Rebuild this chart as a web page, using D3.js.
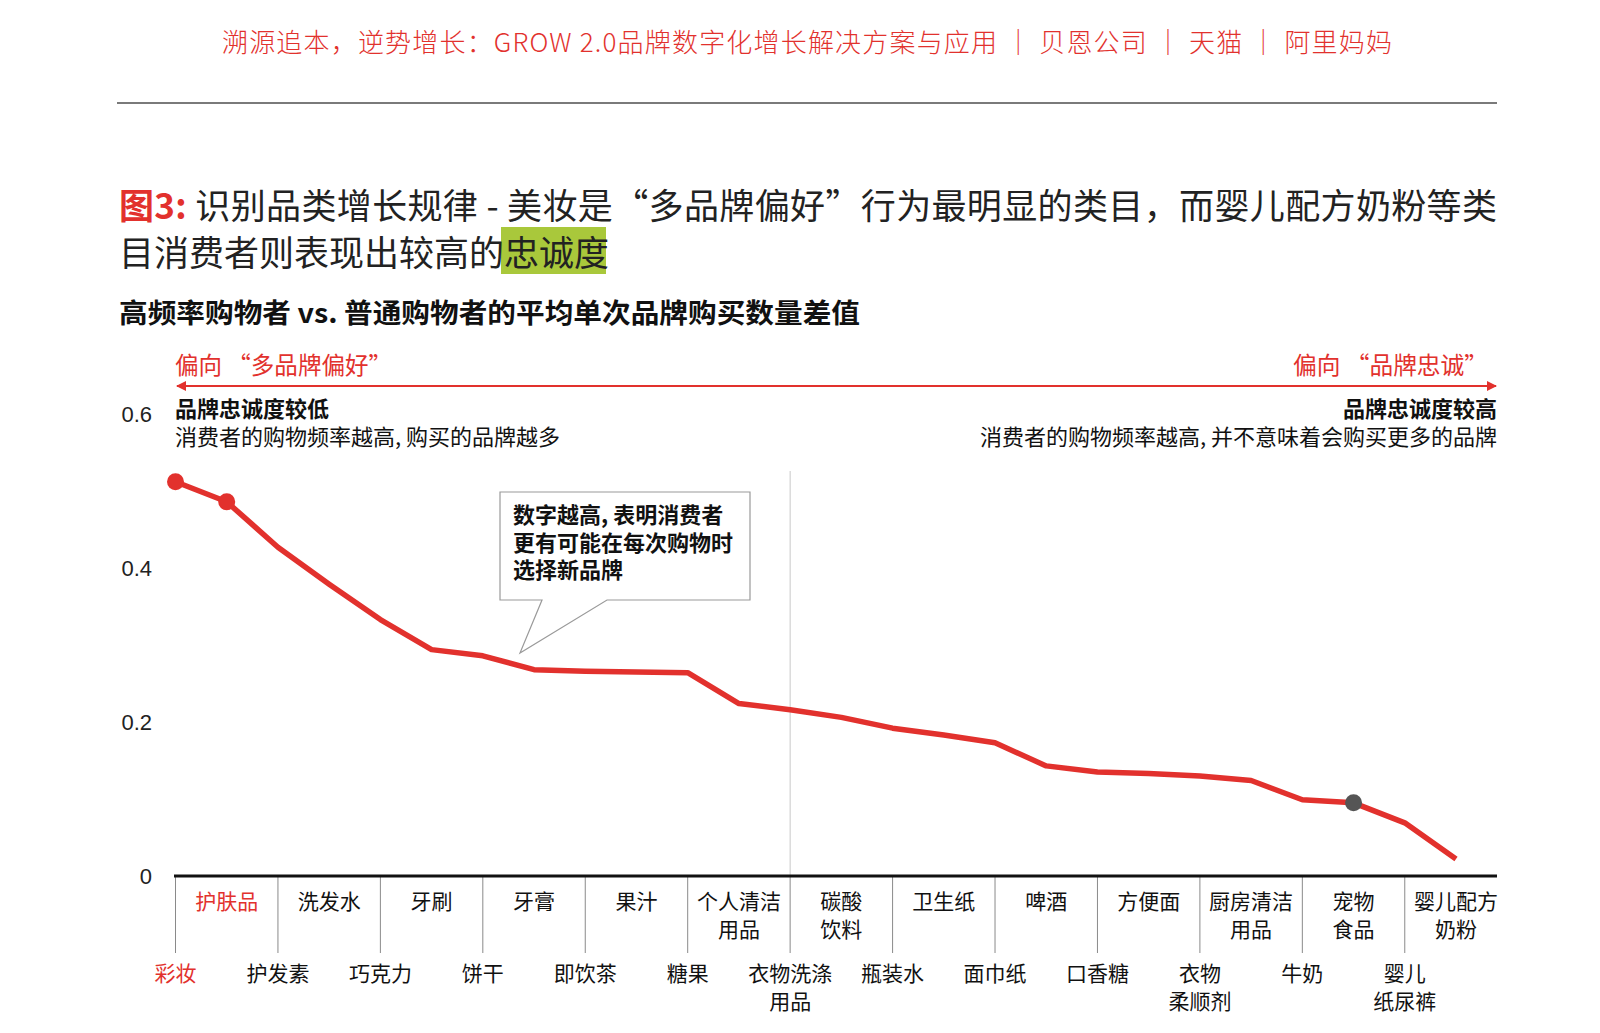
<!DOCTYPE html>
<html>
<head>
<meta charset="utf-8">
<script src="https://cdn.jsdelivr.net/npm/d3@7"></script>
<style>
  body { margin: 0; background: #fff; }
  svg { display: block; font-family: "Noto Sans CJK SC", "Noto Sans", sans-serif; }
</style>
</head>
<body>
<div id="chart"></div>
<script>
// categories in plotted order (alternating bottom row / top row labels)
var categories = ['彩妆', '护肤品', '护发素', '洗发水', '巧克力', '牙刷', '饼干', '牙膏', '即饮茶', '果汁',
  '糖果', '个人清洁用品', '衣物洗涤用品', '碳酸饮料', '瓶装水', '卫生纸', '面巾纸', '啤酒', '口香糖',
  '方便面', '衣物柔顺剂', '厨房清洁用品', '牛奶', '宠物食品', '婴儿纸尿裤', '婴儿配方奶粉'];
// how each label wraps on the axis
var labelLines = [['彩妆'], ['护肤品'], ['护发素'], ['洗发水'], ['巧克力'], ['牙刷'], ['饼干'], ['牙膏'],
  ['即饮茶'], ['果汁'], ['糖果'], ['个人清洁', '用品'], ['衣物洗涤', '用品'], ['碳酸', '饮料'], ['瓶装水'],
  ['卫生纸'], ['面巾纸'], ['啤酒'], ['口香糖'], ['方便面'], ['衣物', '柔顺剂'], ['厨房清洁', '用品'],
  ['牛奶'], ['宠物', '食品'], ['婴儿', '纸尿裤'], ['婴儿配方', '奶粉']];
var values = [0.512, 0.486, 0.427, 0.379, 0.333, 0.294, 0.286, 0.268, 0.266, 0.265,
  0.264, 0.224, 0.216, 0.206, 0.192, 0.183, 0.173, 0.143, 0.135, 0.133,
  0.130, 0.124, 0.099, 0.095, 0.069, 0.022];
var redDots = ['彩妆', '护肤品'];
var greyDots = ['宠物食品'];
var redLabels = ['彩妆', '护肤品'];
var yTicks = [0, 0.2, 0.4, 0.6];

var red = '#e2312d';
var W = 1600, H = 1033;

var svg = d3.select('#chart').append('svg')
  .attr('width', W).attr('height', H);

var defs = svg.append('defs');
['arrowEnd', 'arrowStart'].forEach(function(id) {
  defs.append('marker')
    .attr('id', id)
    .attr('viewBox', '0 0 10 10')
    .attr('refX', 9).attr('refY', 5)
    .attr('markerWidth', 7).attr('markerHeight', 5)
    .attr('orient', 'auto-start-reverse')
    .attr('markerUnits', 'strokeWidth')
    .append('path').attr('d', 'M0,0 L10,5 L0,10 z').attr('fill', red);
});

// header
svg.append('text')
  .attr('x', 222).attr('y', 52)
  .attr('font-size', 26).attr('font-weight', 300)
  .attr('textLength', 1170).attr('lengthAdjust', 'spacing')
  .attr('fill', red)
  .text('溯源追本，逆势增长：GROW 2.0品牌数字化增长解决方案与应用  ｜  贝恩公司  ｜  天猫  ｜  阿里妈妈');

svg.append('line')
  .attr('x1', 117).attr('x2', 1497).attr('y1', 103).attr('y2', 103)
  .attr('stroke', '#7a7a7a').attr('stroke-width', 2);

// title
var t1 = svg.append('text')
  .attr('x', 119).attr('y', 219)
  .attr('font-size', 35)
  .attr('textLength', 1378).attr('lengthAdjust', 'spacing')
  .attr('fill', '#222');
t1.append('tspan').attr('font-weight', 700).attr('fill', red).text('图3:');
t1.append('tspan').text(' 识别品类增长规律 - 美妆是“多品牌偏好”行为最明显的类目，而婴儿配方奶粉等类');

svg.append('rect')
  .attr('x', 501).attr('y', 227).attr('width', 105).attr('height', 47)
  .attr('fill', '#a9c83b');
svg.append('text')
  .attr('x', 119).attr('y', 266)
  .attr('font-size', 35).attr('fill', '#222')
  .text('目消费者则表现出较高的忠诚度');

svg.append('text')
  .attr('x', 119).attr('y', 323)
  .attr('font-size', 27).attr('font-weight', 700).attr('fill', '#111')
  .attr('textLength', 741).attr('lengthAdjust', 'spacingAndGlyphs')
  .text('高频率购物者 vs. 普通购物者的平均单次品牌购买数量差值');

// scales
var x = d3.scalePoint().domain(categories).range([175.5, 1456]);
var y = d3.scaleLinear().domain([0, 0.6]).range([876, 414]);

// direction arrow
svg.append('line')
  .attr('x1', 177).attr('x2', 1496).attr('y1', 386).attr('y2', 386)
  .attr('stroke', red).attr('stroke-width', 2)
  .attr('marker-start', 'url(#arrowStart)')
  .attr('marker-end', 'url(#arrowEnd)');
svg.append('text')
  .attr('x', 175).attr('y', 374)
  .attr('font-size', 24).attr('fill', red)
  .attr('textLength', 217).attr('lengthAdjust', 'spacingAndGlyphs')
  .text('偏向 “多品牌偏好”');
svg.append('text')
  .attr('x', 1293).attr('y', 374)
  .attr('font-size', 24).attr('fill', red)
  .attr('textLength', 195).attr('lengthAdjust', 'spacingAndGlyphs')
  .text('偏向 “品牌忠诚”');

// notes under arrow
svg.append('text')
  .attr('x', 175).attr('y', 417)
  .attr('font-size', 22).attr('font-weight', 700).attr('fill', '#111')
  .text('品牌忠诚度较低');
svg.append('text')
  .attr('x', 175).attr('y', 445)
  .attr('font-size', 22).attr('fill', '#111')
  .text('消费者的购物频率越高, 购买的品牌越多');
svg.append('text')
  .attr('x', 1497).attr('y', 417).attr('text-anchor', 'end')
  .attr('font-size', 22).attr('font-weight', 700).attr('fill', '#111')
  .text('品牌忠诚度较高');
svg.append('text')
  .attr('x', 1497).attr('y', 445).attr('text-anchor', 'end')
  .attr('font-size', 22).attr('fill', '#111')
  .text('消费者的购物频率越高, 并不意味着会购买更多的品牌');

// y tick labels
svg.append('g').selectAll('text')
  .data(yTicks).join('text')
  .attr('x', 152).attr('y', function(d) { return y(d) + 8; })
  .attr('text-anchor', 'end')
  .attr('font-family', 'Liberation Sans, Arial, sans-serif')
  .attr('font-size', 22).attr('fill', '#222')
  .text(function(d) { return d === 0 ? '0' : d3.format('.1f')(d); });

// divider at 衣物洗涤用品
svg.append('line')
  .attr('x1', x('衣物洗涤用品')).attr('x2', x('衣物洗涤用品'))
  .attr('y1', 471).attr('y2', y(0))
  .attr('stroke', '#c8c8c8').attr('stroke-width', 1);

// x axis: separators at bottom-row categories
var lower = categories.filter(function(d, i) { return i % 2 === 0; });
svg.append('g').selectAll('line')
  .data(lower).join('line')
  .attr('x1', function(d) { return x(d); }).attr('x2', function(d) { return x(d); })
  .attr('y1', y(0)).attr('y2', 953)
  .attr('stroke', '#8a8a8a').attr('stroke-width', 1);

svg.append('line')
  .attr('x1', 174).attr('x2', 1497).attr('y1', y(0)).attr('y2', y(0))
  .attr('stroke', '#111').attr('stroke-width', 3);

var labels = svg.append('g').selectAll('text')
  .data(categories).join('text')
  .attr('text-anchor', 'middle')
  .attr('font-size', 21)
  .attr('fill', function(d) { return redLabels.indexOf(d) >= 0 ? red : '#111'; })
  .attr('transform', function(d, i) {
    return 'translate(' + x(d) + ',' + (i % 2 === 0 ? 981 : 909) + ')';
  });
labels.selectAll('tspan')
  .data(function(d, i) { return labelLines[i]; })
  .join('tspan')
  .attr('x', 0)
  .attr('dy', function(d, i) { return i === 0 ? 0 : 28; })
  .text(function(d) { return d; });

// callout
svg.append('path')
  .attr('d', 'M500,492 H750 V600 H607 L520,653 L542,600 H500 Z')
  .attr('fill', '#fff').attr('stroke', '#9a9a9a').attr('stroke-width', 1.2);
svg.append('text')
  .attr('x', 513).attr('y', 523)
  .attr('font-size', 22).attr('font-weight', 700).attr('fill', '#111')
  .selectAll('tspan')
  .data(['数字越高, 表明消费者', '更有可能在每次购物时', '选择新品牌'])
  .join('tspan')
  .attr('x', 513)
  .attr('dy', function(d, i) { return i === 0 ? 0 : 27.5; })
  .text(function(d) { return d; });

// line
var line = d3.line()
  .x(function(d, i) { return x(categories[i]); })
  .y(function(d) { return y(d); });
svg.append('path')
  .datum(values)
  .attr('d', line)
  .attr('fill', 'none')
  .attr('stroke', red).attr('stroke-width', 5.5)
  .attr('stroke-linejoin', 'round');

svg.append('g').selectAll('circle')
  .data(categories.filter(function(d) { return redDots.indexOf(d) >= 0 || greyDots.indexOf(d) >= 0; }))
  .join('circle')
  .attr('cx', function(d) { return x(d); })
  .attr('cy', function(d) { return y(values[categories.indexOf(d)]); })
  .attr('r', 8.5)
  .attr('fill', function(d) { return greyDots.indexOf(d) >= 0 ? '#555' : red; });
</script>
</body>
</html>
